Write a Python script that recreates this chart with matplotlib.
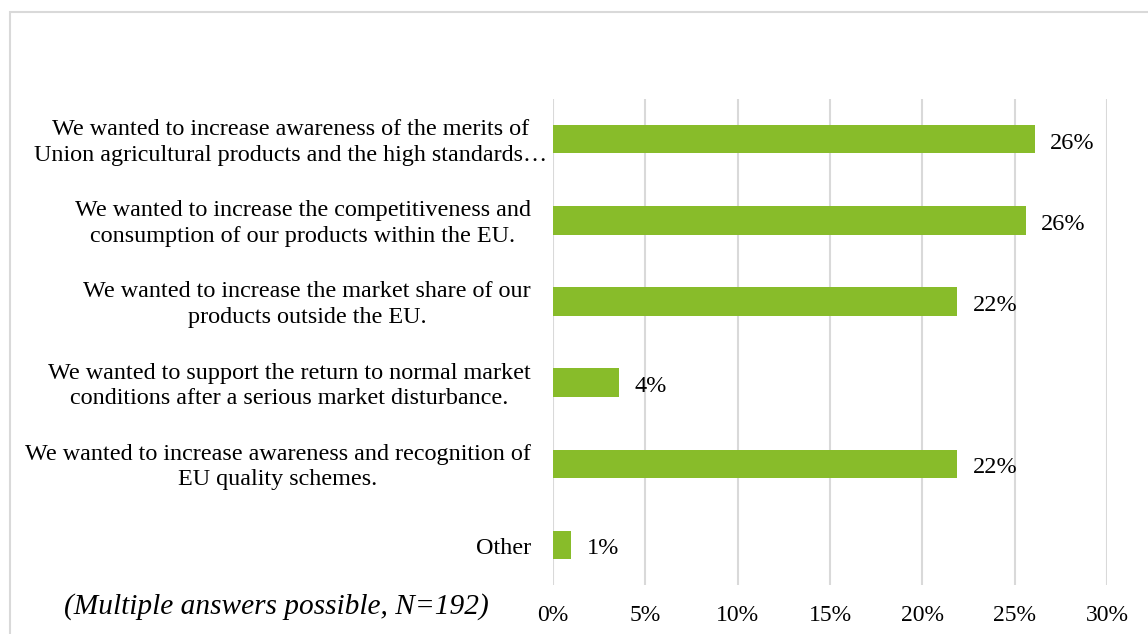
import matplotlib.pyplot as plt
from matplotlib.patches import Rectangle
from matplotlib.transforms import blended_transform_factory

plt.rcParams['font.family'] = ['Liberation Serif', 'DejaVu Serif']

# answers (top to bottom) and their shares in %
labels = [
    "We wanted to increase awareness of the merits of\nUnion agricultural products and the high standards\u2026",
    "We wanted to increase the competitiveness and\nconsumption of our products within the EU.",
    "We wanted to increase the market share of our\nproducts outside the EU.",
    "We wanted to support the return to normal market\nconditions after a serious market disturbance.",
    "We wanted to increase awareness and recognition of\nEU quality schemes.",
    "Other",
]
values = [26.1, 25.6, 21.9, 3.6, 21.9, 1.0]
value_text = ["26%", "26%", "22%", "4%", "22%", "1%"]
xticks = [0, 5, 10, 15, 20, 25, 30]

fig = plt.figure(figsize=(11.48, 6.34), dpi=100)
ax = fig.add_axes([0.4817, 0.0765, 0.4826, 0.768])

# light border round the chart area
fig.patches.append(Rectangle((10 / 1148, -0.1), 1.2, 1 - 12 / 634 + 0.1,
                             transform=fig.transFigure, fill=False,
                             edgecolor='#d9d9d9', linewidth=1.5))

ypos = list(range(len(values)))
ax.barh(ypos, values, height=0.35, color='#88bc2a', zorder=3)
ax.set_ylim(len(values) - 0.5, -0.5)
ax.set_xlim(0, 30)

for y, v, t in zip(ypos, values, value_text):
    ax.annotate(t, (v, y), xytext=(15, -4), textcoords='offset pixels',
                va='center', ha='left', fontsize=17.5, color='#000000')

ax.set_xticks(xticks)
ax.set_xticklabels([f"{x}%" for x in xticks], fontsize=17)
ax.tick_params(axis='x', length=0, pad=14)
ax.set_yticks([])
ax.grid(axis='x', color='#d9d9d9', linewidth=1.5, zorder=0)
for s in ax.spines.values():
    s.set_visible(False)

# category labels, centred lines, right edge near the axis
trans = blended_transform_factory(fig.transFigure, ax.transData)
for y, lab in zip(ypos, labels):
    if y == 0:
        ax.text(291 / 1148, y + 0.04, lab, transform=trans, ha='center', va='center',
                multialignment='center', fontsize=17.4, linespacing=1.28)
    else:
        ax.text(531 / 1148, y + 0.04, lab, transform=trans, ha='right', va='center',
                multialignment='center', fontsize=17.4, linespacing=1.28)

fig.text(276 / 1148, 1 - 607 / 634, "(Multiple answers possible, N=192)",
         ha='center', va='center', fontsize=21.2, style='italic')

fig.savefig('out.png', dpi=100)
